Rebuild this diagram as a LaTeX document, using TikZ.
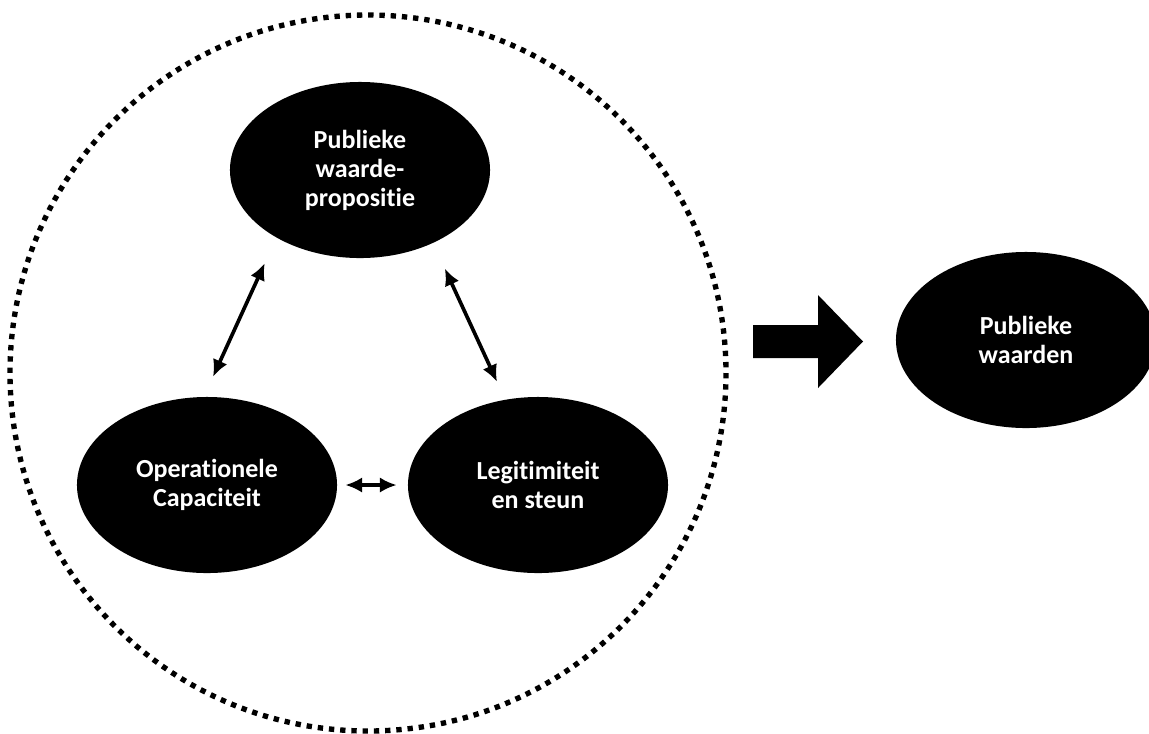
\documentclass[tikz,border=0pt]{standalone}
\usepackage{fontspec}
\setmainfont{Carlito}[Ligatures=NoCommon]
\usetikzlibrary{shapes.geometric,arrows.meta}

\begin{document}
\begin{tikzpicture}[x=0.025cm, y=-0.025cm, line join=round, >={Latex[length=12pt,width=11pt]},
	bubble/.style={ellipse, fill=black, text=white, minimum width=6.5cm, minimum height=4.4cm, inner sep=0pt, align=center, font=\bfseries\fontsize{18.5}{20.6}\selectfont},
	link/.style={<->, line width=2.6pt}]
	\useasboundingbox (0,0) rectangle (1149,733);
	% dotted border round the three parts
	\draw[line width=3.8pt, dash pattern=on 3.8pt off 4.2pt] (368,373) circle [radius=358];
	\node[bubble] (pwp) at (360,170) {Publieke\\waarde-\\propositie};
	\node[bubble] (opc) at (207,485) {Operationele\\Capaciteit};
	\node[bubble] (les) at (538,485) {Legitimiteit\\en steun};
	\node[bubble] (pw) at (1026,340) {Publieke\\waarden};
	\draw[link, shorten <=0.7cm, shorten >=0.55cm] (pwp.219) -- (opc.92);
	\draw[link, shorten <=0.7cm, shorten >=0.49cm] (pwp.315.4) -- (les.111);
	\draw[link, shorten <=0.2cm, shorten >=0.275cm] (opc.east) -- (les.west);
	% block arrow
	\fill (753,325) -- (818,325) -- (818,295) -- (863,341.5) -- (818,388) -- (818,358) -- (753,358) -- cycle;
\end{tikzpicture}
\end{document}
